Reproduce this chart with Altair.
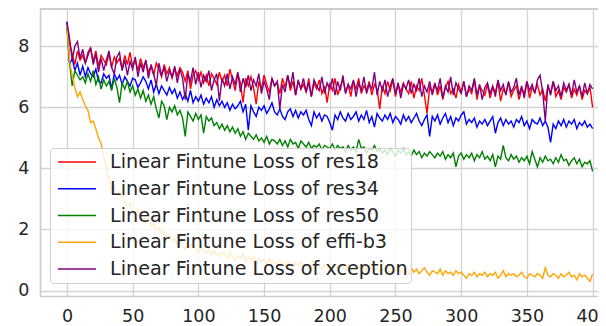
import altair as alt
import pandas as pd

epochs = list(range(0, 401, 2))

series_names = [
    "Linear Fintune Loss of res18",
    "Linear Fintune Loss of res34",
    "Linear Fintune Loss of res50",
    "Linear Fintune Loss of effi-b3",
    "Linear Fintune Loss of xception",
]
series_colors = ["#ff0000", "#0000ff", "#008000", "#ffa500", "#800080"]

res18 = [
    8.70, 8.10, 7.75, 7.40, 7.85, 7.55, 7.70, 7.45, 7.80, 7.95,
    7.50, 7.85, 7.35, 7.70, 7.55, 7.40, 7.75, 7.30, 7.65, 7.45,
    7.60, 7.25, 7.70, 7.40, 7.80, 7.35, 7.55, 7.20, 7.60, 7.30,
    7.50, 7.15, 7.35, 7.05, 7.45, 7.25, 7.00, 7.40, 7.10, 7.30,
    6.95, 7.25, 7.05, 7.30, 7.15, 6.85, 7.20, 6.60, 7.05, 7.20,
    6.90, 7.15, 6.80, 7.05, 6.70, 7.10, 6.95, 6.75, 7.15, 6.85,
    7.05, 6.70, 7.25, 6.90, 6.55, 7.10, 6.80, 6.15, 6.95, 6.70,
    7.00, 6.65, 6.10, 6.85, 6.60, 7.05, 6.75, 6.50, 6.95, 6.70,
    6.80, 6.45, 6.95, 6.65, 7.05, 6.55, 6.85, 6.40, 6.90, 6.60,
    6.75, 6.50, 6.95, 6.35, 6.80, 6.60, 6.90, 6.45, 6.70, 6.15,
    6.80, 6.55, 6.95, 6.40, 6.70, 6.90, 6.50, 6.75, 6.35, 6.85,
    6.60, 6.95, 6.45, 6.70, 6.55, 6.85, 6.40, 6.75, 6.60, 5.95,
    6.70, 6.45, 6.85, 6.55, 6.90, 6.35, 6.75, 6.50, 6.80, 6.60,
    6.45, 6.85, 6.30, 6.70, 6.55, 6.95, 6.40, 5.80, 6.65, 6.50,
    6.80, 6.40, 6.70, 6.25, 6.65, 6.85, 6.45, 6.60, 6.30, 6.75,
    6.50, 6.85, 6.35, 6.60, 6.45, 6.90, 6.25, 6.70, 6.55, 6.40,
    6.75, 6.30, 6.65, 6.50, 6.85, 6.20, 6.60, 6.45, 6.80, 6.35,
    6.55, 6.70, 6.25, 6.60, 6.45, 6.85, 6.30, 6.65, 6.50, 6.75,
    6.40, 6.60, 6.20, 6.70, 6.45, 6.85, 6.35, 6.55, 6.25, 6.65,
    6.50, 6.75, 6.30, 6.60, 6.40, 6.70, 6.25, 6.55, 6.45, 6.65,
    6.00,
]

res34 = [
    8.80, 7.40, 7.60, 7.20, 7.45, 7.05, 7.35, 7.00, 7.30, 7.10,
    7.00, 7.25, 6.85, 6.80, 7.10, 6.95, 7.05, 6.60, 7.10, 6.90,
    7.05, 6.75, 7.00, 6.85, 6.70, 6.95, 6.90, 6.65, 6.80, 7.00,
    6.85, 6.60, 6.90, 6.50, 6.75, 6.45, 6.70, 6.55, 6.40, 6.65,
    6.45, 6.60, 6.30, 6.50, 6.25, 6.45, 6.20, 6.55, 6.15, 6.35,
    6.20, 6.40, 6.10, 6.30, 6.15, 6.35, 6.00, 6.25, 6.05, 6.20,
    6.00, 6.15, 5.90, 6.10, 5.95, 6.05, 6.20, 5.85, 6.10, 5.25,
    6.05, 5.85, 5.70, 6.00, 5.90, 6.05, 5.80, 5.95, 6.15, 5.85,
    5.75, 5.95, 5.70, 5.60, 5.85, 5.95, 5.70, 5.90, 5.65, 5.85,
    5.75, 5.90, 5.60, 5.40, 5.85, 5.65, 5.80, 5.55, 5.75, 5.70,
    5.50, 5.25, 5.75, 5.60, 5.85, 5.65, 5.55, 5.80, 5.60, 5.70,
    5.85, 5.55, 5.75, 5.60, 5.90, 5.50, 5.70, 5.35, 5.80, 5.65,
    5.55, 5.75, 5.60, 5.80, 5.50, 5.70, 5.60, 5.45, 5.75, 5.55,
    5.70, 5.50, 5.65, 5.80, 5.55, 5.40, 5.60, 5.75, 5.05, 5.70,
    5.55, 5.75, 5.45, 5.65, 5.80, 5.50, 5.70, 5.40, 5.65, 5.55,
    5.75, 5.85, 5.45, 5.60, 5.50, 5.65, 5.35, 5.55, 5.45, 5.60,
    5.40, 5.55, 5.70, 5.15, 5.50, 5.65, 5.40, 5.60, 5.45, 5.55,
    5.35, 5.60, 5.50, 5.70, 5.40, 5.55, 5.30, 5.60, 5.50, 5.45,
    5.65, 5.40, 5.55, 5.35, 4.85, 5.45, 5.30, 5.55, 5.40, 5.60,
    5.35, 5.55, 5.45, 5.60, 5.30, 5.50, 5.40, 5.55, 5.35, 5.45,
    5.30,
]

res50 = [
    8.60, 7.45, 6.70, 7.20, 7.05, 6.90, 7.00, 6.80, 7.10, 6.85,
    7.20, 6.75, 7.00, 6.60, 6.90, 6.70, 6.85, 6.55, 6.95, 6.65,
    6.15, 6.80, 6.60, 6.85, 6.50, 6.70, 6.40, 6.60, 6.30, 6.55,
    6.20, 6.40, 6.10, 6.35, 5.95, 5.65, 6.20, 6.05, 5.60, 6.00,
    5.85, 6.05, 5.75, 5.90, 5.65, 5.05, 5.85, 5.70, 5.55, 5.80,
    5.60, 5.75, 5.15, 5.70, 5.55, 5.65, 5.40, 5.50, 5.30, 5.45,
    5.25, 5.40, 5.20, 5.35, 5.15, 5.30, 5.05, 5.20, 4.95, 5.15,
    5.05, 4.95, 5.10, 4.90, 5.00, 4.85, 5.05, 4.80, 4.95, 4.90,
    4.80, 4.95, 4.75, 4.90, 4.70, 4.95, 4.80, 4.85, 4.65, 4.90,
    4.80, 4.70, 4.85, 4.65, 4.75, 4.70, 4.80, 4.60, 4.75, 4.70,
    4.65, 4.80, 4.60, 4.75, 4.65, 4.70, 4.55, 4.75, 4.60, 4.70,
    4.55, 4.95, 4.65, 4.70, 4.50, 4.65, 4.60, 4.75, 4.55, 4.65,
    4.50, 4.60, 4.45, 4.65, 4.55, 4.40, 4.60, 4.50, 4.65, 4.45,
    4.55, 4.40, 4.60, 4.45, 4.55, 4.35, 4.50, 4.40, 4.55, 4.45,
    4.35, 4.50, 4.40, 4.55, 4.30, 4.45, 4.35, 4.50, 4.05, 4.40,
    4.50, 4.30, 4.45, 4.35, 4.50, 4.25, 4.45, 4.35, 4.55, 4.30,
    4.40, 4.25, 4.45, 4.05, 4.40, 4.30, 4.75, 4.35, 4.25, 4.45,
    4.30, 4.40, 4.20, 4.35, 4.25, 4.40, 4.15, 4.55, 4.30, 4.05,
    4.35, 4.20, 4.40, 4.25, 4.30, 4.15, 4.35, 4.20, 4.45, 4.25,
    4.30, 4.10, 4.25, 4.35, 4.15, 4.30, 4.05, 4.20, 4.15, 4.25,
    3.90,
]

effib3 = [
    8.70, 7.50, 7.05, 6.65, 6.35, 6.50, 6.25, 6.05, 5.90, 5.50,
    5.55, 5.30, 5.00, 4.80, 4.40, 4.00, 3.65, 3.30, 3.40, 3.15,
    3.25, 3.05, 2.90, 2.75, 2.85, 2.60, 2.50, 2.65, 2.40, 2.45,
    2.25, 2.35, 2.10, 2.20, 1.95, 2.05, 1.85, 1.95, 1.75, 1.80,
    1.60, 1.70, 1.50, 1.65, 1.45, 1.35, 1.55, 1.40, 1.60, 1.35,
    1.25, 1.40, 1.30, 1.20, 1.35, 1.15, 1.30, 1.20, 1.10, 1.25,
    1.15, 1.05, 1.25, 1.10, 1.00, 1.15, 1.05, 1.20, 0.95, 1.10,
    1.00, 1.10, 0.90, 1.05, 0.95, 1.00, 0.85, 1.05, 0.90, 0.95,
    0.85, 1.00, 0.90, 0.80, 0.95, 0.85, 0.75, 0.90, 0.80, 0.95,
    0.80, 0.85, 0.70, 0.90, 0.75, 0.85, 0.80, 0.70, 0.85, 0.75,
    0.80, 0.70, 0.85, 0.65, 0.80, 0.75, 0.70, 0.85, 0.65, 0.75,
    0.70, 0.80, 0.65, 0.75, 0.60, 0.80, 0.70, 0.65, 0.75, 0.60,
    0.70, 0.65, 0.75, 0.55, 0.70, 0.65, 0.75, 0.60, 0.70, 0.65,
    0.55, 0.75, 0.60, 0.70, 0.55, 0.65, 0.75, 0.60, 0.50, 0.65,
    0.60, 0.55, 0.70, 0.50, 0.65, 0.55, 0.60, 0.50, 0.65, 0.55,
    0.60, 0.50, 0.40, 0.55, 0.50, 0.60, 0.45, 0.55, 0.50, 0.60,
    0.45, 0.55, 0.50, 0.60, 0.40, 0.50, 0.65, 0.45, 0.55, 0.50,
    0.55, 0.45, 0.50, 0.60, 0.45, 0.40, 0.55, 0.50, 0.45, 0.55,
    0.50, 0.40, 0.75, 0.50, 0.45, 0.55, 0.50, 0.40, 0.55, 0.45,
    0.50, 0.60, 0.45, 0.50, 0.35, 0.55, 0.45, 0.50, 0.40, 0.30,
    0.55,
]

xception = [
    8.80, 8.25, 7.55, 8.00, 8.15, 7.60, 7.90, 7.45, 7.70, 7.95,
    7.40, 7.75, 7.15, 7.60, 7.20, 7.55, 7.85, 7.30, 7.10, 7.65,
    7.80, 7.20, 7.55, 7.05, 7.50, 7.25, 7.65, 7.00, 7.45, 7.15,
    7.55, 6.95, 7.40, 7.10, 6.70, 7.45, 7.05, 7.30, 6.85, 7.20,
    7.00, 7.35, 6.80, 7.25, 6.95, 6.25, 7.10, 6.85, 7.30, 6.75,
    7.15, 6.65, 7.05, 6.85, 7.20, 6.55, 6.90, 7.10, 6.20, 6.95,
    6.70, 7.10, 6.60, 7.00, 6.75, 7.15, 6.50, 6.95, 6.65, 7.05,
    6.55, 6.90, 6.70, 7.10, 6.45, 6.85, 6.60, 6.25, 6.95, 6.70,
    6.85, 5.95, 6.75, 6.50, 7.05, 6.65, 7.15, 6.40, 6.85, 6.60,
    6.95, 6.50, 6.80, 6.35, 6.90, 6.70, 6.55, 7.00, 6.45, 6.80,
    6.60, 6.95, 6.40, 6.85, 6.55, 7.05, 6.45, 6.75, 6.60, 6.90,
    6.35, 6.80, 6.55, 7.00, 6.45, 6.75, 6.60, 7.15, 6.40, 6.85,
    6.55, 6.90, 6.35, 6.70, 6.95, 6.45, 6.80, 6.30, 6.75, 6.60,
    6.90, 6.45, 6.75, 6.55, 6.95, 6.35, 6.70, 6.50, 6.85, 6.40,
    6.75, 6.55, 6.95, 6.30, 6.70, 6.50, 7.00, 6.40, 6.80, 6.60,
    6.45, 6.85, 6.35, 6.70, 6.55, 6.95, 6.40, 6.75, 6.25, 6.65,
    6.80, 6.45, 6.70, 6.35, 6.90, 6.55, 6.75, 6.40, 6.85, 6.50,
    6.65, 6.95, 6.40, 6.70, 6.30, 6.85, 6.55, 6.75, 6.45, 6.90,
    7.05, 6.50, 5.55, 6.75, 6.40, 6.85, 6.55, 6.70, 6.35, 6.80,
    6.55, 6.75, 6.40, 6.90, 6.50, 6.70, 6.35, 6.80, 6.45, 6.75,
    6.60,
]

x_ticks = [0, 50, 100, 150, 200, 250, 300, 350, 400]
y_ticks = [0, 2, 4, 6, 8]
x_domain = [-20.5, 404.1]
y_domain = [-0.18, 9.22]

all_series = [res18, res34, res50, effib3, xception]
rows = []
for name, vals in zip(series_names, all_series):
    for e, v in zip(epochs, vals):
        rows.append({"epoch": e, "loss": v, "series": name})
df = pd.DataFrame(rows)

FONT = "DejaVu Sans"
TXT = "#262626"
GRID = "#d3d3d3"
SPINE = "#cccccc"

lines = alt.Chart(df).mark_line(strokeWidth=1.4, clip=True).encode(
    x=alt.X(
        "epoch:Q",
        scale=alt.Scale(domain=x_domain, nice=False, zero=False),
        axis=alt.Axis(
            values=x_ticks, title=None, ticks=False, domain=True,
            domainColor=SPINE, domainWidth=1.6, grid=True,
            gridColor=GRID, gridWidth=1.3, labelFontSize=17.5, labelFont=FONT,
            labelColor=TXT, labelPadding=11, labelFlush=False, labelOverlap=False,
            labelBound=False,
        ),
    ),
    y=alt.Y(
        "loss:Q",
        scale=alt.Scale(domain=y_domain, nice=False, zero=False),
        axis=alt.Axis(
            values=y_ticks, title=None, ticks=False, domain=True,
            domainColor=SPINE, domainWidth=1.6, grid=True,
            gridColor=GRID, gridWidth=1.3, labelFontSize=17.5, labelFont=FONT,
            labelColor=TXT, labelPadding=11, labelOverlap=False,
        ),
    ),
    color=alt.Color(
        "series:N",
        scale=alt.Scale(domain=series_names, range=series_colors),
        legend=alt.Legend(
            title=None, orient="none", legendX=10, legendY=139,
            symbolType="stroke", symbolSize=1444, symbolStrokeWidth=1.5,
            symbolOffset=4, clipHeight=22,
            labelFontSize=19.2, labelFont=FONT, labelColor=TXT, labelOffset=13,
            labelLimit=500,
            fillColor="rgba(255,255,255,0.8)", strokeColor="#d0d0d0",
            cornerRadius=4, padding=3, rowPadding=4.75,
        ),
    ),
)

top_spine = alt.Chart(df).mark_rule(color=SPINE, strokeWidth=1.6).encode(
    y=alt.datum(y_domain[1])
)

chart = alt.layer(lines, top_spine).properties(
    width=558, height=287, autosize="none",
    padding={"left": 32, "top": 1, "right": 0, "bottom": 30},
).configure_view(stroke="transparent")

chart.save("out.html", embed_options={"renderer": "svg", "actions": False})
